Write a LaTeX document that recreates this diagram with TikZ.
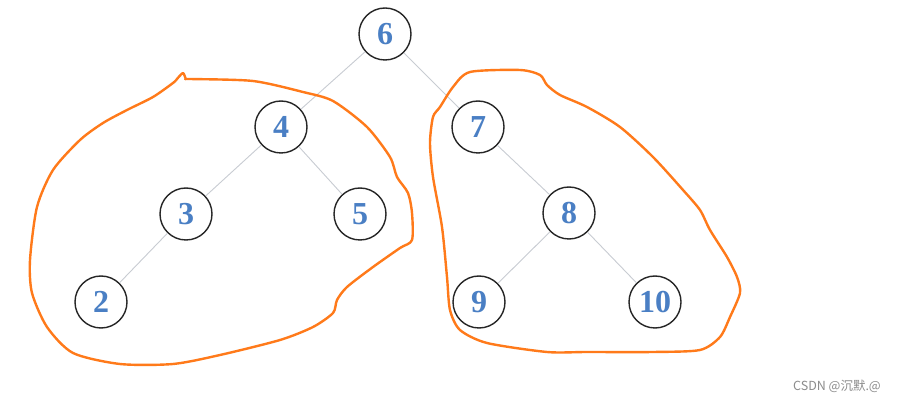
\documentclass[tikz,border=0pt]{standalone}
\usepackage{fontspec}
\setmainfont{Liberation Serif}
\newfontfamily\cjkfont{Noto Sans CJK SC}
\definecolor{numblue}{HTML}{4A7FC4}
\definecolor{edgegray}{HTML}{C8CCD2}
\definecolor{penorange}{HTML}{FF7A1A}
\begin{document}
\begin{tikzpicture}[x=1pt,y=-1pt,
  tnode/.style={circle,draw=black!85,line width=1.4pt,fill=white,minimum size=52pt,inner sep=0pt,
    font=\fontsize{32}{32}\selectfont\bfseries,text=numblue},
  tedge/.style={draw=edgegray,line width=0.9pt},
  pen/.style={draw=penorange,line width=2.4pt,line join=round,line cap=round}]
\useasboundingbox (0,0) rectangle (898,403);
\fill[white] (0,0) rectangle (898,403);
\node[tnode] (n6) at (385,34) {6};
\node[tnode] (n4) at (281,127) {4};
\node[tnode] (n7) at (478,127) {7};
\node[tnode] (n3) at (186,214) {3};
\node[tnode] (n5) at (360,214) {5};
\node[tnode] (n8) at (569,213) {8};
\node[tnode] (n2) at (101,302) {2};
\node[tnode] (n9) at (479,302) {9};
\node[tnode] (n10) at (655,302) {10};
\path[tedge] (n6) -- (n4);
\path[tedge] (n6) -- (n7);
\path[tedge] (n4) -- (n3);
\path[tedge] (n4) -- (n5);
\path[tedge] (n3) -- (n2);
\path[tedge] (n7) -- (n8);
\path[tedge] (n8) -- (n9);
\path[tedge] (n8) -- (n10);
% left freehand loop
\draw[pen] plot[smooth,tension=0.45] coordinates {
 (177,79) (183,73) (186,79) (190,79) (253,81) (303,92) (333,101) (367,127) (390,157)
 (397,177) (408,193) (412,213) (412,240) (400,248) (373,267) (347,287) (337,300)
 (333,313) (313,327) (280,340) (220,355) (173,364) (120,364) (73,353) (47,327)
 (32,293) (30,260) (37,207) (53,170) (80,140) (103,123) (127,110) (153,97) (173,83) (177,79)};
% right freehand loop
\draw[pen] plot[smooth cycle,tension=0.45] coordinates {
 (470,72) (520,70) (540,75) (547,85) (560,95) (587,107) (620,127) (653,157)
 (683,190) (700,210) (710,230) (727,257) (737,277) (740,293) (730,317) (720,337)
 (700,350) (653,352) (587,352) (547,352) (487,343) (460,330) (450,310) (447,277)
 (442,227) (433,177) (430,143) (433,117) (440,107) (453,87)};
\node[text=black!45,font=\cjkfont\fontsize{12.5}{13}\selectfont,anchor=east,inner sep=0pt] (wm) at (881,386) {CSDN @沉默.@};
\end{tikzpicture}
\end{document}
